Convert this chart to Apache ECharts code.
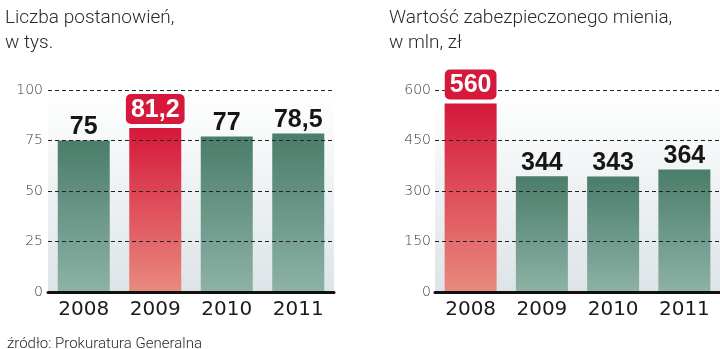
<!DOCTYPE html>
<html><head><meta charset="utf-8">
<script src="https://cdn.jsdelivr.net/npm/echarts@6/dist/echarts.min.js"></script>
<style>html,body{margin:0;padding:0;background:#fff}#c{width:720px;height:349px}</style>
</head><body><div id="c"></div>
<script>
const years = ['2008', '2009', '2010', '2011'];
const decisions = [75, 81.2, 77, 78.5];          // Liczba postanowień, w tys.
const property = [560, 344, 343, 364];           // Wartość zabezpieczonego mienia, w mln zł
const decisionTicks = [0, 25, 50, 75, 100];
const propertyTicks = [0, 150, 300, 450, 600];
const highlightDecisions = '2009';
const highlightProperty = '2008';
const titleLeft = 'Liczba postanowień,\nw tys.';
const titleRight = 'Wartość zabezpieczonego mienia,\nw mln, zł';
const sourceText = 'źródło: Prokuratura Generalna';

const grad = (top, bottom) => new echarts.graphic.LinearGradient(0, 0, 0, 1, [
  { offset: 0, color: top }, { offset: 1, color: bottom }
]);
const GREEN = () => grad('#4a7d6a', '#8db2a6');
const RED = () => grad('#d5183b', '#e98a7e');
const fmt = v => String(v).replace('.', ',');

const labelFont = "'Liberation Sans', Arial, sans-serif";

function barSeries(idx, values, hl) {
  return {
    type: 'bar', xAxisIndex: idx, yAxisIndex: idx, z: 1, barWidth: 52, barGap: '-100%',
    silent: true,
    data: values.map((v, i) => ({ value: v, itemStyle: { color: years[i] === hl ? RED() : GREEN() } }))
  };
}
function labelSeries(idx, values, hl) {
  return {
    type: 'bar', xAxisIndex: idx, yAxisIndex: idx, z: 5, barWidth: 52, barGap: '-100%',
    silent: true,
    itemStyle: { color: 'rgba(0,0,0,0)' },
    label: {
      show: true, position: 'top', distance: 0,
      fontFamily: labelFont, fontWeight: 'bold', fontSize: 25, lineHeight: 26, color: '#161616',
      formatter: p => fmt(p.value)
    },
    data: values.map((v, i) => years[i] === hl ? {
      value: v,
      label: { color: '#ffffff', backgroundColor: '#d5183b', borderRadius: 5, padding: [3, 5, 1, 5], distance: 4 }
    } : { value: v })
  };
}
function yAxis(idx, ticks, margin) {
  return {
    gridIndex: idx, type: 'value', z: 2,
    min: ticks[0], max: ticks[ticks.length - 1], interval: ticks[1] - ticks[0],
    axisLine: { show: false }, axisTick: { show: false },
    axisLabel: { fontFamily: 'DejaVu Sans', fontWeight: 200, fontSize: 14, color: '#3a3a3a', margin: margin },
    splitLine: { lineStyle: { color: '#222', width: 1, type: [4, 3] } }
  };
}
function xAxis(idx) {
  return {
    gridIndex: idx, type: 'category', data: years, z: 3,
    axisTick: { show: false },
    axisLine: { lineStyle: { color: '#111', width: 3 } },
    axisLabel: { fontFamily: 'DejaVu Sans', fontSize: 20, color: '#1a1a1a', margin: 8 }
  };
}
const bg = () => grad('#ffffff', '#dde4e7');

const chart = echarts.init(document.getElementById('c'), null, { renderer: 'canvas' });
chart.setOption({
  animation: false,
  backgroundColor: '#ffffff',
  title: [
    { text: titleLeft, left: 0, top: 1, textStyle: { fontFamily: 'Roboto', fontWeight: 300, fontSize: 19, lineHeight: 25, color: '#2a2a2a' } },
    { text: titleRight, left: 384, top: 1, textStyle: { fontFamily: 'Roboto', fontWeight: 300, fontSize: 19, lineHeight: 25, color: '#2a2a2a' } },
    { text: sourceText, left: 2, top: 332, textStyle: { fontFamily: 'Roboto', fontWeight: 300, fontSize: 15, color: '#2a2a2a' } }
  ],
  grid: [
    { left: 48, right: 386, top: 90, bottom: 57, show: true, borderWidth: 0, backgroundColor: bg() },
    { left: 435, right: -3, top: 90, bottom: 57, show: true, borderWidth: 0, backgroundColor: bg() }
  ],
  xAxis: [xAxis(0), xAxis(1)],
  yAxis: [yAxis(0, decisionTicks, 5), yAxis(1, propertyTicks, 4)],
  series: [
    barSeries(0, decisions, highlightDecisions),
    labelSeries(0, decisions, highlightDecisions),
    barSeries(1, property, highlightProperty),
    labelSeries(1, property, highlightProperty)
  ]
});
</script></body></html>
